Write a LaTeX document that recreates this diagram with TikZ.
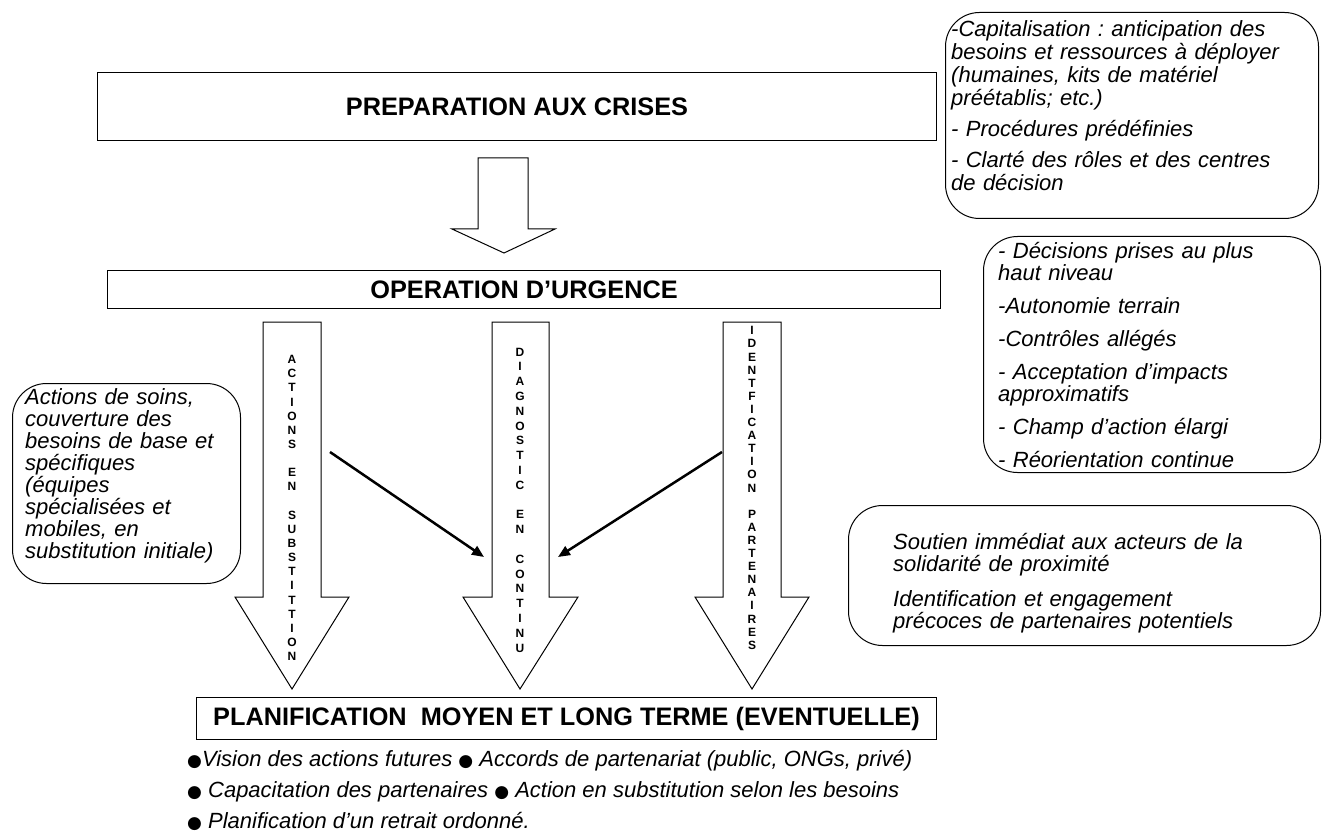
\documentclass[tikz,border=0pt]{standalone}
\usepackage{fontspec}
\setmainfont{Liberation Sans}
\newfontfamily\dejavu{DejaVu Sans}
\usetikzlibrary{arrows.meta}
\frenchspacing
\newcommand{\blt}{{\dejavu\fontsize{17}{20}\selectfont ●}}
\begin{document}
\begin{tikzpicture}[x=1pt,y=-1pt,
  box/.style={draw, line width=1pt, inner sep=0pt, anchor=north west},
  head/.style={font=\bfseries\fontsize{25.3}{28}\selectfont},
  rshape/.style={draw, line width=1pt, rounded corners=34pt, inner sep=0pt, anchor=north west},
  rtext/.style={align=left, anchor=north west, inner sep=0pt, font=\itshape\fontsize{22}{23}\selectfont},
  blockarrow/.style={draw, line width=1pt, fill=white, line join=miter},
  vtext/.style={align=center, inner sep=0pt, font=\bfseries\fontsize{12}{14.14}\selectfont},
  diag/.style={line width=2.5pt, -{Triangle[length=12pt,width=10pt]}},
  bullets/.style={anchor=west, inner sep=0pt, font=\itshape\fontsize{22}{24}\selectfont}]
\useasboundingbox[fill=white] (0,0) rectangle (1322,834);

% main boxes
\node[box, head, minimum width=839pt, minimum height=68pt] (prep) at (97,72) {PREPARATION AUX CRISES};
\node[box, head, minimum width=833pt, minimum height=38pt] (oper) at (107,270) {OPERATION D’URGENCE};
\node[box, head, minimum width=740pt, minimum height=42pt] (plan) at (196,697) {PLANIFICATION\ \ MOYEN ET LONG TERME (EVENTUELLE)};

% small block arrow
\draw[blockarrow] (478,158) -- (528,158) -- (528,229) -- (555,229) -- (504,253) -- (452,229) -- (478,229) -- cycle;

% vertical block arrows
\draw[blockarrow] (263,322) -- (321,322) -- (321,597) -- (349,597) -- (292,689) -- (235,597) -- (263,597) -- cycle;
\draw[blockarrow] (492,322) -- (549,322) -- (549,597) -- (578,597) -- (520,689) -- (463,597) -- (492,597) -- cycle;
\draw[blockarrow] (723,322) -- (781,322) -- (781,597) -- (809,597) -- (752,689) -- (695,597) -- (723,597) -- cycle;

\node[vtext] (va) at (292,508) {A\\C\\T\\I\\O\\N\\S\\\mbox{}\\E\\N\\\mbox{}\\S\\U\\B\\S\\T\\I\\T\\T\\I\\O\\N};
\node[vtext, font=\bfseries\fontsize{12}{14.8}\selectfont] (vd) at (520,500) {D\\I\\A\\G\\N\\O\\S\\T\\I\\C\\\mbox{}\\E\\N\\\mbox{}\\C\\O\\N\\T\\I\\N\\U};
\node[vtext, font=\bfseries\fontsize{12}{13.1}\selectfont] (vi) at (752,488) {I\\D\\E\\N\\T\\F\\I\\C\\A\\T\\I\\O\\N\\\mbox{}\\P\\A\\R\\T\\E\\N\\A\\I\\R\\E\\S};

% diagonal arrows
\coordinate (d1s) at (330,452);
\coordinate (d1e) at (484,557);
\coordinate (d2s) at (722,452);
\coordinate (d2e) at (558,557);
\draw[diag] (d1s) -- (d1e);
\draw[diag] (d2s) -- (d2e);

% rounded side boxes
\node[rshape, minimum width=373pt, minimum height=206pt] (cap) at (945,12) {};
\node[rtext, text width=361pt] (capt) at (951,20)
 {-Capitalisation : anticipation des\\besoins et ressources à déployer\\(humaines, kits de matériel\\préétablis; etc.)\\[8pt]- Procédures prédéfinies\\[8pt]- Clarté des rôles et des centres\\de décision};

\node[rshape, minimum width=337pt, minimum height=236pt] (dec) at (983,236) {};
\node[rtext, text width=309pt, font=\itshape\fontsize{22}{22}\selectfont] (dect) at (998,242)
 {- Décisions prises au plus\\haut niveau\\[11pt]-Autonomie terrain\\[11pt]-Contrôles allégés\\[11pt]- Acceptation d’impacts\\approximatifs\\[11pt]- Champ d’action élargi\\[11pt]- Réorientation continue};

\node[rshape, minimum width=472pt, minimum height=140pt] (sout) at (848,505) {};
\node[rtext, text width=382pt, font=\itshape\fontsize{22}{22}\selectfont] (soutt) at (893,533)
 {Soutien immédiat aux acteurs de la\\solidarité de proximité\\[13pt]Identification et engagement\\précoces de partenaires potentiels};

\node[rshape, minimum width=228pt, minimum height=200pt] (soins) at (12,383) {};
\node[rtext, text width=210pt, font=\itshape\fontsize{22}{22}\selectfont] (soinst) at (25,388)
 {Actions de soins,\\couverture des\\besoins de base et\\spécifiques\\(équipes\\spécialisées et\\mobiles, en\\substitution initiale)};

% bullets
\node[bullets] (b1) at (187,761) {\blt Vision des actions futures \blt\ Accords de partenariat (public, ONGs, privé)};
\node[bullets] (b2) at (187,792) {\blt\ Capacitation des partenaires \blt\ Action en substitution selon les besoins};
\node[bullets] (b3) at (187,821) {\blt\ Planification d’un retrait ordonné.};
\end{tikzpicture}
\end{document}
